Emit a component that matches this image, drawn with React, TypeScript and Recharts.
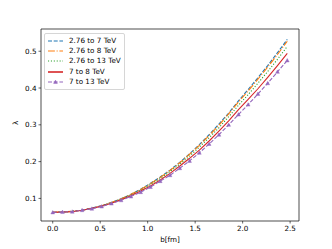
import React from "react";
import { LineChart, Line, XAxis, YAxis, ReferenceArea } from "recharts";

const bValues = [
  0, 0.103, 0.206, 0.309, 0.412, 0.515, 0.618, 0.72, 0.823, 0.926, 1.029, 1.132, 1.235,
  1.338, 1.441, 1.544, 1.647, 1.75, 1.853, 1.956, 2.058, 2.161, 2.264, 2.367, 2.47,
];
const to7 = [
  0.062, 0.063, 0.065, 0.068, 0.074, 0.08, 0.089, 0.099, 0.111, 0.125, 0.141, 0.158, 0.177,
  0.198, 0.221, 0.246, 0.273, 0.302, 0.332, 0.365, 0.396, 0.428, 0.461, 0.496, 0.532,
];
const to8 = [
  0.062, 0.063, 0.065, 0.068, 0.073, 0.08, 0.089, 0.099, 0.111, 0.124, 0.14, 0.157, 0.176,
  0.197, 0.22, 0.244, 0.271, 0.299, 0.33, 0.362, 0.392, 0.424, 0.457, 0.491, 0.527,
];
const to13 = [
  0.062, 0.063, 0.065, 0.068, 0.073, 0.08, 0.088, 0.098, 0.109, 0.122, 0.138, 0.154, 0.173,
  0.193, 0.215, 0.239, 0.265, 0.292, 0.322, 0.353, 0.382, 0.413, 0.445, 0.478, 0.513,
];
const s7to8 = [
  0.062, 0.063, 0.064, 0.068, 0.073, 0.079, 0.087, 0.096, 0.107, 0.12, 0.134, 0.15, 0.168,
  0.188, 0.209, 0.231, 0.256, 0.283, 0.311, 0.341, 0.369, 0.398, 0.429, 0.461, 0.494,
];
const s7to13 = [
  0.062, 0.063, 0.064, 0.068, 0.072, 0.078, 0.086, 0.095, 0.105, 0.117, 0.131, 0.147, 0.163,
  0.182, 0.202, 0.224, 0.248, 0.273, 0.3, 0.328, 0.355, 0.384, 0.413, 0.444, 0.475,
];
const xTicks = [0, 0.5, 1, 1.5, 2, 2.5];
const yTicks = [0.1, 0.2, 0.3, 0.4, 0.5];

const data = bValues.map((b, i) => ({
  b,
  to7: to7[i],
  to8: to8[i],
  to13: to13[i],
  s7to8: s7to8[i],
  s7to13: s7to13[i],
}));

const series = [
  { key: "to7", name: "2.76 to 7 TeV", color: "#1f77b4", dash: "4 1.7" },
  { key: "to8", name: "2.76 to 8 TeV", color: "#ff7f0e", dash: "6.9 1.7 1.1 1.7" },
  { key: "to13", name: "2.76 to 13 TeV", color: "#2ca02c", dash: "1.1 1.8" },
  { key: "s7to8", name: "7 to 8 TeV", color: "#d62728", dash: undefined },
  { key: "s7to13", name: "7 to 13 TeV", color: "#9467bd", dash: "4 1.7" },
];

const font = "DejaVu Sans, sans-serif";

function Triangle(props: any) {
  const { cx, cy } = props;
  if (cx == null || cy == null) return null;
  const r = 1.9;
  return (
    <polygon
      points={`${cx},${cy - r} ${cx - r},${cy + r * 0.8} ${cx + r},${cy + r * 0.8}`}
      fill="#9467bd"
      stroke="#9467bd"
      strokeWidth={0.4}
    />
  );
}

function LegendBox() {
  return (
    <div
      style={{
        position: "absolute",
        left: 44,
        top: 33,
        width: 72,
        background: "rgba(255,255,255,0.8)",
        border: "1px solid #d6d6d6",
        borderRadius: 2,
        padding: "1.5px 4px 1.5px 3px",
        fontFamily: font,
        fontSize: 7.2,
        color: "#000",
      }}
    >
      {series.map((s) => (
        <div key={s.key} style={{ display: "flex", alignItems: "center", height: 10.4 }}>
          <svg width={15} height={6} style={{ marginRight: 6, flexShrink: 0 }}>
            <line
              x1={0}
              y1={3}
              x2={15}
              y2={3}
              stroke={s.color}
              strokeWidth={s.key === "s7to8" ? 1.6 : 1.1}
              strokeDasharray={s.dash}
            />
            {s.key === "s7to13" && <Triangle cx={7.5} cy={3} />}
          </svg>
          <span style={{ lineHeight: "10px", whiteSpace: "nowrap" }}>{s.name}</span>
        </div>
      ))}
    </div>
  );
}

export default function App() {
  return (
    <div style={{ position: "absolute", left: 0, top: 0, width: 332, height: 249, background: "#fff" }}>
      <LineChart width={332} height={249} data={data} margin={{ top: 29, right: 33, bottom: 0, left: 0 }}>
        <XAxis
          dataKey="b"
          type="number"
          domain={[-0.1235, 2.5935]}
          ticks={xTicks}
          tickFormatter={(v: number) => v.toFixed(1)}
          tickSize={2.5}
          tickLine={{ stroke: "#000", strokeWidth: 0.6 }}
          axisLine={false}
          height={28}
          tick={{ fill: "#000", fontSize: 7.2, fontFamily: font }}
          label={{ value: "b[fm]", position: "insideBottom", offset: 7, fill: "#000", fontSize: 7.2, fontFamily: font }}
        />
        <YAxis
          type="number"
          domain={[0.0386, 0.5604]}
          ticks={yTicks}
          tickFormatter={(v: number) => v.toFixed(1)}
          tickSize={2.5}
          tickLine={{ stroke: "#000", strokeWidth: 0.6 }}
          axisLine={false}
          width={41}
          tick={{ fill: "#000", fontSize: 7.2, fontFamily: font }}
          label={{ value: "λ", angle: -90, position: "insideLeft", offset: 15, fill: "#000", fontSize: 7.2, fontFamily: font }}
        />
        <ReferenceArea
          x1={-0.1235}
          x2={2.5935}
          y1={0.0386}
          y2={0.5604}
          fill="none"
          stroke="#000"
          strokeWidth={0.7}
          ifOverflow="visible"
        />
        {series.map((s) => (
          <Line
            key={s.key}
            dataKey={s.key}
            name={s.name}
            type="linear"
            stroke={s.color}
            strokeWidth={1.1}
            strokeDasharray={s.dash}
            dot={s.key === "s7to13" ? <Triangle /> : false}
            activeDot={false}
            isAnimationActive={false}
          />
        ))}
      </LineChart>
      <LegendBox />
    </div>
  );
}
